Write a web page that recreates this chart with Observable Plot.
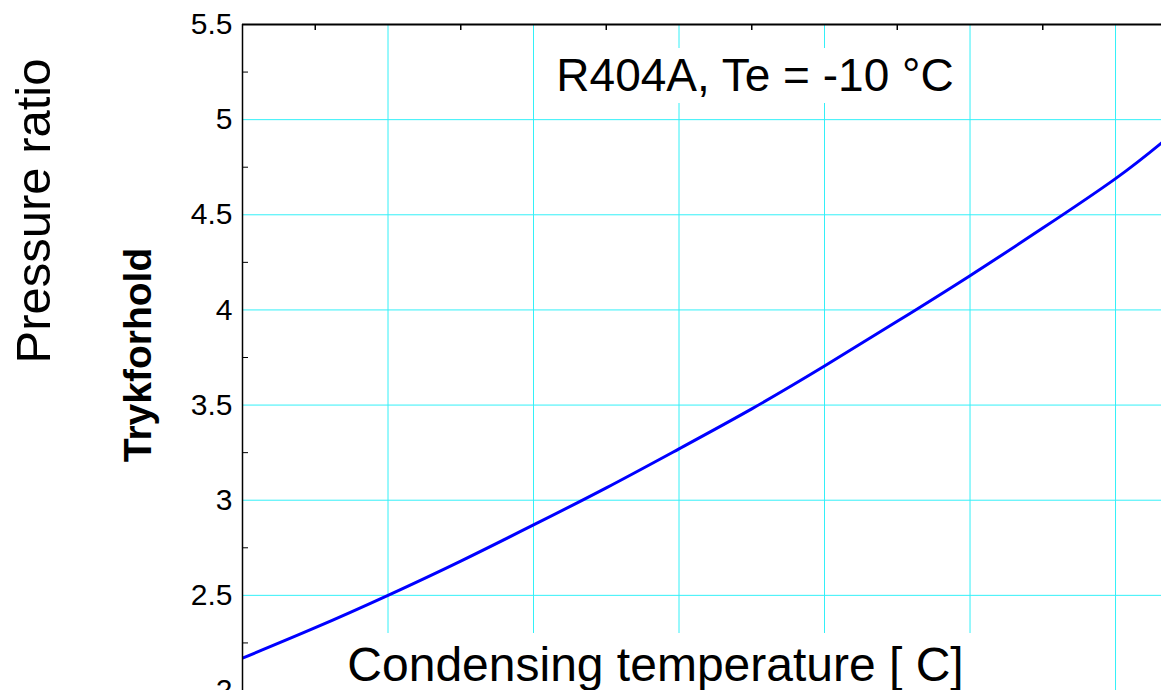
<!DOCTYPE html>
<html>
<head>
<meta charset="utf-8">
<script src="https://cdn.jsdelivr.net/npm/d3@7"></script>
<script src="https://cdn.jsdelivr.net/npm/@observablehq/plot@0.6"></script>
<style>
  html, body { margin: 0; padding: 0; background: #fff; overflow: hidden; }
  #wrap { position: relative; width: 1161px; height: 690px; overflow: hidden; font-family: "Liberation Sans", Arial, sans-serif; }
  .lbl { position: absolute; background: #fff; color: #000; white-space: nowrap; }
</style>
</head>
<body>
<div id="wrap">
  <div id="chart"></div>
  <div class="lbl" id="title" style="left:545px; top:48px; width:420px; height:55px; font-size:46px; line-height:55px; text-align:center;">R404A, Te = -10 °C</div>
  <div class="lbl" id="xlabel" style="left:330px; top:633px; width:651px; height:63px; font-size:48px; line-height:63px; text-align:center;">Condensing temperature [ C]</div>
  <div class="lbl" style="left:33px; top:211px; font-size:49px; line-height:49px; transform: translate(-50%,-50%) rotate(-90deg); background:none;">Pressure ratio</div>
  <div class="lbl" style="left:137px; top:355px; font-size:39px; line-height:39px; font-weight:bold; transform: translate(-50%,-50%) rotate(-90deg); background:none;">Trykforhold</div>
</div>
<script>
// Condensing temperature [°C] and pressure ratio
const condTemp = [15, 17.5, 20, 22.5, 25, 27.5, 30, 32.5, 35, 37.5, 40, 42.5, 45, 46.6];
const pressureRatio = [2.17, 2.33, 2.50, 2.68, 2.87, 3.065, 3.27, 3.48, 3.705, 3.94, 4.18, 4.43, 4.69, 4.88];

const yMajorTicks = [2, 2.5, 3, 3.5, 4, 4.5, 5, 5.5];
const yMinorTicks = [2.25, 2.75, 3.25, 3.75, 4.25, 4.75, 5.25];
const xGridTicks = [20, 25, 30, 35, 40, 45];
const xMinorTicks = [17.5, 22.5, 27.5, 32.5, 37.5, 42.5];

const data = condTemp.map((t, i) => ({t, r: pressureRatio[i]}));

const W = 1161, H = 690, ML = 242, MT = 24;
const grid = "#33f0f8";

const chart = Plot.plot({
  width: W,
  height: H,
  marginLeft: ML,
  marginRight: 0,
  marginTop: MT,
  marginBottom: 0,
  style: {fontFamily: "'Liberation Sans', Arial, sans-serif", background: "white", color: "black"},
  x: {domain: [15, 46.58], axis: null},
  y: {domain: [2, 5.5], axis: null},
  marks: [
    Plot.gridX(xGridTicks, {stroke: grid, strokeOpacity: 1, strokeWidth: 1}),
    Plot.gridY(yMajorTicks.filter(v => v > 2 && v < 5.5), {stroke: grid, strokeOpacity: 1, strokeWidth: 1}),
    Plot.tickY(yMinorTicks, {y: d => d, stroke: "black", strokeWidth: 1, insetRight: W - ML - 6}),
    Plot.tickX(xMinorTicks, {x: d => d, stroke: "black", strokeWidth: 1.5, insetBottom: H - MT - 6}),
    Plot.axisY(yMajorTicks, {tickSize: 0, tickPadding: 10, fontSize: 30, label: null, tickFormat: d => String(d), fill: "black"}),
    Plot.line(data, {x: "t", y: "r", stroke: "#0000ff", strokeWidth: 3, curve: "natural", clip: true}),
    Plot.ruleX([15], {stroke: "black", strokeWidth: 1.5}),
    Plot.ruleY([5.5], {stroke: "black", strokeWidth: 2})
  ]
});
document.getElementById("chart").appendChild(chart);
</script>
</body>
</html>
